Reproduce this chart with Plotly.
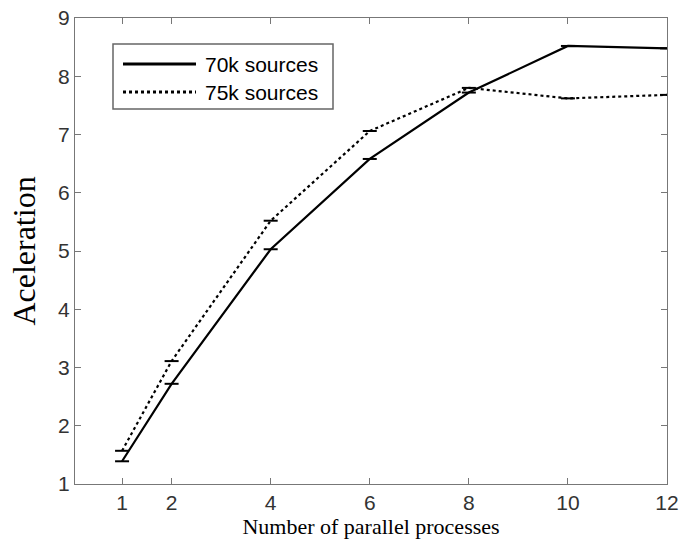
import plotly.graph_objects as go

processes = [1, 2, 4, 6, 8, 10, 12]
acc_70k = [1.39, 2.72, 5.03, 6.58, 7.72, 8.52, 8.48]
acc_75k = [1.57, 3.11, 5.52, 7.06, 7.80, 7.62, 7.68]
series_names = ["70k sources", "75k sources"]
x_ticks = [1, 2, 4, 6, 8, 10, 12]
y_ticks = [1, 2, 3, 4, 5, 6, 7, 8, 9]

PX_L, PX_W, PX_B, PX_H = 75, 592, 484, 466


def px_x(p):
    return (p - PX_L) / PX_W


def px_y(p):
    return (PX_B - p) / PX_H


fig = go.Figure()
styles = [("solid", 3), ("dot", 3)]
for name, vals, (dash, _) in zip(series_names, [acc_70k, acc_75k], styles):
    fig.add_trace(go.Scatter(x=processes, y=vals, mode="lines", name=name, showlegend=False,
                             line=dict(color="black", width=2.2, dash=dash)))
    fig.add_trace(go.Scatter(x=processes, y=vals, mode="markers", showlegend=False,
                             marker=dict(symbol="line-ew", size=10,
                                         line=dict(color="black", width=2))))

axis_common = dict(showgrid=False, zeroline=False, showline=True, linecolor="#777",
                   linewidth=1.2, mirror="ticks", ticks="inside", ticklen=6,
                   tickcolor="#777", tickwidth=1,
                   tickfont=dict(family="Liberation Sans, Arial", size=21, color="#333"))

fig.update_xaxes(range=[0.05, 12], tickvals=x_ticks, **axis_common,
                 title=dict(text="Number of parallel processes", standoff=1,
                            font=dict(family="Liberation Serif, Times New Roman", size=22, color="black")))
fig.update_yaxes(range=[1, 9], tickvals=y_ticks, **axis_common,
                 title=dict(text="Aceleration", standoff=12,
                            font=dict(family="Liberation Serif, Times New Roman", size=32, color="black")))

# hand-drawn legend box (matches original legend geometry)
shapes = [dict(type="rect", xref="paper", yref="paper",
               x0=px_x(113), x1=px_x(333), y0=px_y(109), y1=px_y(44),
               line=dict(color="#666", width=1.5), fillcolor="white", layer="above")]
annotations = []
for i, (name, (dash, w)) in enumerate(zip(series_names, styles)):
    yy = px_y(64 + 28 * i)
    shapes.append(dict(type="line", xref="paper", yref="paper",
                       x0=px_x(123), x1=px_x(196), y0=yy, y1=yy,
                       line=dict(color="black", width=w, dash=dash), layer="above"))
    annotations.append(dict(xref="paper", yref="paper", x=px_x(203), y=yy,
                            xanchor="left", yanchor="middle", showarrow=False, text=name,
                            font=dict(family="Liberation Sans, Arial", size=21, color="black")))

fig.update_layout(
    width=684, height=539,
    margin=dict(l=75, r=17, t=18, b=55, autoexpand=False),
    plot_bgcolor="white", paper_bgcolor="white",
    shapes=shapes, annotations=annotations, showlegend=False,
)

fig.write_html("out.html")
